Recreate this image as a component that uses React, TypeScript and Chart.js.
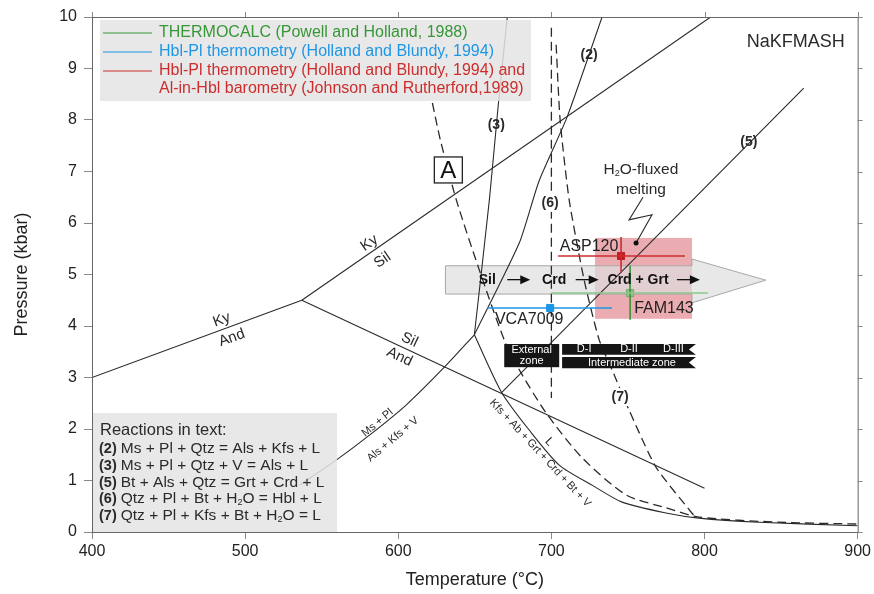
import React, { useEffect, useRef } from "react";
import { Chart, registerables } from "chart.js";
Chart.register(...registerables);

const FONT = '"Liberation Sans", Arial, Helvetica, sans-serif';

// axis ticks
const tempTicks = [400, 500, 600, 700, 800, 900];
const pressureTicks = [0, 1, 2, 3, 4, 5, 6, 7, 8, 9, 10];

// Aluminosilicate phase boundaries
const kyAndT = [400, 537];
const kyAndP = [3.0, 4.5];
const kySilT = [537, 804];
const kySilP = [4.5, 10];
const silAndT = [537, 800];
const silAndP = [4.5, 0.85];

// Reactions
const r2T = [649.7, 679.0, 692.0, 710.3, 733.1];
const r2P = [3.83, 5.61, 6.82, 8.06, 10];
const r3T = [649.7, 659.5, 665.3, 671.2];
const r3P = [3.83, 6.45, 8.29, 10];
const r5T = [667.3, 864.8];
const r5P = [2.7, 8.62];
const msPlT = [649.7, 630.1, 605.3, 581.2, 559.7, 535.6];
const msPlP = [3.83, 3.2, 2.47, 1.88, 1.4, 0.91];
const kfsT = [649.7, 667.3, 685.5, 705.1, 726.6, 746.2, 774.8, 796.3, 835.5, 900];
const kfsP = [3.83, 2.72, 1.98, 1.3, 0.91, 0.58, 0.37, 0.27, 0.19, 0.12];
const dashAT = [622.3, 627.5, 637.9, 652.9, 669.2, 679.0, 696.6, 720.1, 748.8, 774.8, 796.3, 848.5, 900];
const dashAP = [8.33, 7.61, 6.45, 5.09, 3.73, 3.15, 2.31, 1.44, 0.72, 0.47, 0.29, 0.19, 0.155];
const r6T = [700, 700];
const r6P = [9.79, 2.6];
const r7T = [703.1, 705.7, 711.6, 721.4, 731.2, 739.6, 750.7, 768.3, 794.4];
const r7P = [9.46, 8.0, 6.45, 4.89, 3.73, 3.15, 2.37, 1.26, 0.27];

// Samples: [T, P, Tmin, Tmax, Pmin, Pmax]
const asp120 = [745.5, 5.36, 704.4, 787.2, 5.03, 5.73];
const fam143 = [751.4, 4.64, 699.9, 802.2, 4.12, 5.17];
const vca7009 = [699.2, 4.35, 658.1, 739.6];

// Shaded areas
const pinkBoxT = [728.5, 791.8];
const pinkBoxP = [4.14, 5.71];
const arrowBodyT = [630.8, 791.8];
const arrowBodyP = [4.62, 5.17];
const arrowHeadT = [791.8, 840.0, 791.8];
const arrowHeadP = [5.3, 4.89, 4.45];

// H2O-fluxed melting zigzag
const zigT = [759.8, 750.7, 765.7, 755.3];
const zigP = [6.5, 6.06, 6.16, 5.61];

const RED = "rgb(205,45,45)";
const BLUE = "rgb(30,150,230)";
const GREEN = "rgb(55,150,55)";
const LGREEN = "rgb(140,200,140)";
const INK = "#2a2a2a";

function pts(T: number[], P: number[]) {
  return T.map((t, i) => ({ x: t, y: P[i] }));
}

function lineDs(T: number[], P: number[], dashed = false, tension = 0, color = INK, width = 1.1) {
  return {
    type: "scatter" as const,
    data: pts(T, P),
    showLine: true,
    pointRadius: 0,
    borderColor: color,
    borderWidth: width,
    borderDash: dashed ? [9, 5] : [],
    tension,
    fill: false,
  };
}

function drawText(ctx: CanvasRenderingContext2D, s: string, x: number, y: number, font: string, color = INK, rot = 0, align: CanvasTextAlign = "center") {
  ctx.save();
  ctx.translate(x, y);
  if (rot) ctx.rotate((rot * Math.PI) / 180);
  ctx.font = font;
  ctx.fillStyle = color;
  ctx.textAlign = align;
  ctx.textBaseline = "middle";
  ctx.fillText(s, 0, 0);
  ctx.restore();
}

type Run = { t: string; f: string; dy?: number };
function drawRuns(ctx: CanvasRenderingContext2D, runs: Run[], x: number, y: number, color = INK, center = false) {
  ctx.save();
  ctx.fillStyle = color;
  ctx.textBaseline = "middle";
  ctx.textAlign = "left";
  let w = 0;
  for (const r of runs) {
    ctx.font = r.f;
    w += ctx.measureText(r.t).width;
  }
  let cx = center ? x - w / 2 : x;
  for (const r of runs) {
    ctx.font = r.f;
    ctx.fillText(r.t, cx, y + (r.dy || 0));
    cx += ctx.measureText(r.t).width;
  }
  ctx.restore();
}

const annot = {
  id: "annot",
  beforeDatasetsDraw(chart: any) {
    const { ctx, scales } = chart;
    const X = (v: number) => scales.x.getPixelForValue(v);
    const Y = (v: number) => scales.y.getPixelForValue(v);
    ctx.save();
    // pink box
    ctx.fillStyle = "rgba(214,90,100,0.5)";
    ctx.fillRect(X(pinkBoxT[0]), Y(pinkBoxP[1]), X(pinkBoxT[1]) - X(pinkBoxT[0]), Y(pinkBoxP[0]) - Y(pinkBoxP[1]));
    // grey arrow
    ctx.beginPath();
    ctx.moveTo(X(arrowBodyT[0]), Y(arrowBodyP[1]));
    ctx.lineTo(X(arrowBodyT[1]), Y(arrowBodyP[1]));
    ctx.lineTo(X(arrowHeadT[0]), Y(arrowHeadP[0]));
    ctx.lineTo(X(arrowHeadT[1]), Y(arrowHeadP[1]));
    ctx.lineTo(X(arrowHeadT[2]), Y(arrowHeadP[2]));
    ctx.lineTo(X(arrowBodyT[1]), Y(arrowBodyP[0]));
    ctx.lineTo(X(arrowBodyT[0]), Y(arrowBodyP[0]));
    ctx.closePath();
    ctx.fillStyle = "rgba(222,222,222,0.7)";
    ctx.fill();
    ctx.strokeStyle = "#a8a8a8";
    ctx.lineWidth = 1;
    ctx.stroke();
    ctx.restore();
  },
  afterDatasetsDraw(chart: any) {
    const { ctx, scales, chartArea } = chart;
    const X = (v: number) => scales.x.getPixelForValue(v);
    const Y = (v: number) => scales.y.getPixelForValue(v);
    const L = chartArea.left;
    const T = chartArea.top;
    ctx.save();

    // legend box
    ctx.fillStyle = "rgba(228,228,228,0.85)";
    ctx.fillRect(L + 8, T + 3, 431, 81);
    const legRows: [string, string, number][] = [
      ["THERMOCALC (Powell and Holland, 1988)", GREEN, 16],
      ["Hbl-Pl thermometry (Holland and Blundy, 1994)", BLUE, 35],
      ["Hbl-Pl thermometry (Holland and Blundy, 1994) and", RED, 54],
    ];
    for (const [s, c, dy] of legRows) {
      ctx.strokeStyle = c;
      ctx.lineWidth = 1.2;
      ctx.beginPath();
      ctx.moveTo(L + 11, T + dy);
      ctx.lineTo(L + 60, T + dy);
      ctx.stroke();
      drawText(ctx, s, L + 67, T + dy, `16px ${FONT}`, c, 0, "left");
    }
    drawText(ctx, "Al-in-Hbl barometry (Johnson and Rutherford,1989)", L + 67, T + 72, `16px ${FONT}`, RED, 0, "left");

    // reactions box
    ctx.fillStyle = "rgba(228,228,228,0.85)";
    ctx.fillRect(L, 413, 245, chartArea.bottom - 413);
    drawText(ctx, "Reactions in text:", L + 8, 430, `16.5px ${FONT}`, INK, 0, "left");
    const bf = `bold 14.5px ${FONT}`;
    const nf = `15.5px ${FONT}`;
    const sf = `9px ${FONT}`;
    drawRuns(ctx, [{ t: "(2) ", f: bf }, { t: "Ms + Pl + Qtz = Als + Kfs + L", f: nf }], L + 7, 449);
    drawRuns(ctx, [{ t: "(3) ", f: bf }, { t: "Ms + Pl + Qtz + V = Als + L", f: nf }], L + 7, 466);
    drawRuns(ctx, [{ t: "(5) ", f: bf }, { t: "Bt + Als + Qtz = Grt + Crd + L", f: nf }], L + 7, 483);
    drawRuns(ctx, [{ t: "(6) ", f: bf }, { t: "Qtz + Pl + Bt + H", f: nf }, { t: "2", f: sf, dy: 4 }, { t: "O = Hbl + L", f: nf }], L + 7, 499);
    drawRuns(ctx, [{ t: "(7) ", f: bf }, { t: "Qtz + Pl + Kfs + Bt + H", f: nf }, { t: "2", f: sf, dy: 4 }, { t: "O = L", f: nf }], L + 7, 516);

    // phase labels
    const lf = `15px ${FONT}`;
    drawText(ctx, "Ky", X(581.2), Y(5.61), lf, INK, -34.6);
    drawText(ctx, "Sil", X(589.7), Y(5.28), lf, INK, -34.6);
    drawText(ctx, "Ky", X(484.7), Y(4.12), lf, INK, -20);
    drawText(ctx, "And", X(491.3), Y(3.77), lf, INK, -20);
    drawText(ctx, "Sil", X(607.3), Y(3.73), lf, INK, 25);
    drawText(ctx, "And", X(600.8), Y(3.4), lf, INK, 25);

    // reaction numbers
    const nb = `bold 14px ${FONT}`;
    drawText(ctx, "(2)", X(724.6), Y(9.26), nb);
    drawText(ctx, "(3)", X(664.0), Y(7.9), nb);
    drawText(ctx, "(5)", X(829.0), Y(7.57), nb);
    ctx.fillStyle = "#fff";
    ctx.fillRect(X(699.2) - 11, Y(6.39) - 9, 22, 18);
    ctx.fillRect(X(744.9) - 11, Y(2.62) - 9, 22, 18);
    drawText(ctx, "(6)", X(699.2), Y(6.39), nb);
    drawText(ctx, "(7)", X(744.9), Y(2.62), nb);

    // small reaction labels
    const sm = `11px ${FONT}`;
    drawText(ctx, "Ms + Pl", X(586.4), Y(2.12), sm, INK, -40);
    drawText(ctx, "Als + Kfs + V", X(596.5), Y(1.8), sm, INK, -40);
    drawText(ctx, "Kfs + Ab + Grt + Crd + Bt + V", X(692.7), Y(1.53), sm, INK, 47);
    drawText(ctx, "L", X(698.6), Y(1.75), `12px ${FONT}`, INK, 47);

    // A box
    const ax = X(632.7), ay = Y(7.03);
    ctx.fillStyle = "#fff";
    ctx.fillRect(ax - 14, ay - 13, 28, 26);
    ctx.strokeStyle = "#222";
    ctx.lineWidth = 1.3;
    ctx.strokeRect(ax - 14, ay - 13, 28, 26);
    drawText(ctx, "A", ax, ay + 1, `24px ${FONT}`, "#111");

    // NaKFMASH
    drawText(ctx, "NaKFMASH", X(859.6), Y(9.51), `18px ${FONT}`, INK);

    // H2O-fluxed melting
    drawRuns(ctx, [{ t: "H", f: `15.5px ${FONT}` }, { t: "2", f: `9px ${FONT}`, dy: 4 }, { t: "O-fluxed", f: `15.5px ${FONT}` }], X(758.5), Y(7.03), INK, true);
    drawText(ctx, "melting", X(758.5), Y(6.64), `15.5px ${FONT}`, INK);
    ctx.strokeStyle = INK;
    ctx.lineWidth = 1.1;
    ctx.beginPath();
    zigT.forEach((t, i) => (i === 0 ? ctx.moveTo(X(t), Y(zigP[i])) : ctx.lineTo(X(t), Y(zigP[i]))));
    ctx.stroke();
    ctx.fillStyle = "#111";
    ctx.beginPath();
    ctx.arc(X(zigT[3]), Y(zigP[3]), 2.5, 0, Math.PI * 2);
    ctx.fill();

    // arrow path labels
    const af = `bold 14px ${FONT}`;
    const ap = Y(4.9);
    drawText(ctx, "Sil", X(658.1), ap, af, "#111");
    drawText(ctx, "Crd", X(701.8), ap, af, "#111");
    drawText(ctx, "Crd + Grt", X(756.6), ap, af, "#111");
    for (const c of [679.0, 723.7, 789.8]) {
      const cx = X(c);
      ctx.strokeStyle = "#111";
      ctx.lineWidth = 1.3;
      ctx.beginPath();
      ctx.moveTo(cx - 12, ap);
      ctx.lineTo(cx + 2, ap);
      ctx.stroke();
      ctx.fillStyle = "#111";
      ctx.beginPath();
      ctx.moveTo(cx + 1, ap - 4.5);
      ctx.lineTo(cx + 11, ap);
      ctx.lineTo(cx + 1, ap + 4.5);
      ctx.closePath();
      ctx.fill();
    }

    // sample labels
    drawText(ctx, "ASP120", X(724.6), Y(5.55), `16px ${FONT}`, "#222");
    drawText(ctx, "FAM143", X(773.5), Y(4.33), `16px ${FONT}`, "#222");
    drawText(ctx, "VCA7009", X(685.5), Y(4.12), `16px ${FONT}`, "#222");

    // zone boxes
    ctx.fillStyle = "#151515";
    const ex0 = X(669.2), ex1 = X(705.1), ey0 = Y(3.65), ey1 = Y(3.2);
    ctx.fillRect(ex0, ey0, ex1 - ex0, ey1 - ey0);
    drawText(ctx, "External", (ex0 + ex1) / 2, ey0 + 6, `11px ${FONT}`, "#fff");
    drawText(ctx, "zone", (ex0 + ex1) / 2, ey0 + 17, `11px ${FONT}`, "#fff");
    const ix0 = X(707.0), ix1 = X(794.4);
    const banner = (y0: number, y1: number) => {
      ctx.beginPath();
      ctx.moveTo(ix0, y0);
      ctx.lineTo(ix1, y0);
      ctx.lineTo(ix1 - 7, (y0 + y1) / 2);
      ctx.lineTo(ix1, y1);
      ctx.lineTo(ix0, y1);
      ctx.closePath();
      ctx.fill();
    };
    ctx.fillStyle = "#151515";
    banner(Y(3.65), Y(3.44));
    banner(Y(3.4), Y(3.18));
    const bm1 = (Y(3.65) + Y(3.44)) / 2, bm2 = (Y(3.4) + Y(3.18)) / 2;
    drawText(ctx, "D-I", X(721.4), bm1, `11px ${FONT}`, "#fff");
    drawText(ctx, "D-II", X(750.7), bm1, `11px ${FONT}`, "#fff");
    drawText(ctx, "D-III", X(779.7), bm1, `11px ${FONT}`, "#fff");
    drawText(ctx, "Intermediate zone", X(752.6), bm2, `11px ${FONT}`, "#fff");

    ctx.restore();
  },
  afterDraw(chart: any) {
    const { ctx, chartArea, scales } = chart;
    ctx.save();
    ctx.strokeStyle = "#666";
    ctx.lineWidth = 1;
    ctx.strokeRect(chartArea.left + 0.5, chartArea.top + 0.5, chartArea.right - chartArea.left, chartArea.bottom - chartArea.top);
    ctx.strokeStyle = "#888";
    ctx.beginPath();
    for (const t of tempTicks) {
      const x = Math.round(scales.x.getPixelForValue(t)) + 0.5;
      ctx.moveTo(x, chartArea.top);
      ctx.lineTo(x, chartArea.top - 5);
    }
    for (const p of pressureTicks) {
      const y = Math.round(scales.y.getPixelForValue(p)) + 0.5;
      ctx.moveTo(chartArea.right, y);
      ctx.lineTo(chartArea.right + 5, y);
    }
    ctx.stroke();
    ctx.restore();
  },
};

export default function App() {
  const ref = useRef<HTMLCanvasElement | null>(null);
  useEffect(() => {
    if (!ref.current) return;
    const datasets: any[] = [
      // sample error bars (drawn on top: first in list)
      { ...lineDs([asp120[2], asp120[3]], [asp120[1], asp120[1]], false, 0, RED, 1.6) },
      { ...lineDs([asp120[0], asp120[0]], [asp120[4], asp120[5]], false, 0, RED, 1.6) },
      { type: "scatter", data: [{ x: asp120[0], y: asp120[1] }], pointStyle: "rect", pointRadius: 5, backgroundColor: "rgb(190,30,35)", borderColor: "rgb(190,30,35)" },
      { ...lineDs([fam143[2], fam143[3]], [fam143[1], fam143[1]], false, 0, LGREEN, 1.6) },
      { ...lineDs([fam143[0], fam143[0]], [fam143[4], fam143[5]], false, 0, GREEN, 1.6) },
      { type: "scatter", data: [{ x: fam143[0], y: fam143[1] }], pointStyle: "rect", pointRadius: 5, backgroundColor: "rgb(150,190,140)", borderColor: "rgb(120,170,110)" },
      { ...lineDs([vca7009[2], vca7009[3]], [vca7009[1], vca7009[1]], false, 0, BLUE, 1.6) },
      { type: "scatter", data: [{ x: vca7009[0], y: vca7009[1] }], pointStyle: "rect", pointRadius: 5, backgroundColor: BLUE, borderColor: BLUE },
      // phase boundaries
      lineDs(kyAndT, kyAndP),
      lineDs(kySilT, kySilP),
      lineDs(silAndT, silAndP),
      lineDs(r2T, r2P, false, 0.2),
      lineDs(r3T, r3P, false, 0.2),
      lineDs(r5T, r5P),
      lineDs(msPlT, msPlP, false, 0.25),
      lineDs(kfsT, kfsP, false, 0.25),
      lineDs(dashAT, dashAP, true, 0.25, INK, 1.3),
      lineDs(r6T, r6P, true, 0, INK, 1.3),
      lineDs(r7T, r7P, true, 0.2, INK, 1.3),
    ];
    const tickFont = { family: FONT, size: 16 };
    const chart = new Chart(ref.current, {
      type: "scatter",
      data: { datasets },
      options: {
        animation: false,
        responsive: false,
        layout: { padding: { top: 17, right: 15, left: 0, bottom: 0 } },
        plugins: { legend: { display: false }, tooltip: { enabled: false } },
        scales: {
          x: {
            type: "linear",
            min: 400,
            max: 900,
            afterBuildTicks: (s: any) => {
              s.ticks = tempTicks.map((v) => ({ value: v }));
            },
            afterFit: (s: any) => {
              s.height = 62;
            },
            ticks: { font: tickFont, color: "#222", padding: 3 },
            grid: { drawOnChartArea: false, tickLength: 7, color: "#888" },
            border: { color: "#666" },
            title: { display: true, text: "Temperature (°C)", font: { family: FONT, size: 18 }, color: "#222", padding: { top: 0, bottom: 3 } },
          },
          y: {
            type: "linear",
            min: 0,
            max: 10,
            afterBuildTicks: (s: any) => {
              s.ticks = pressureTicks.map((v) => ({ value: v }));
            },
            afterFit: (s: any) => {
              s.width = 92;
            },
            ticks: { font: tickFont, color: "#222", padding: 7 },
            grid: { drawOnChartArea: false, tickLength: 8, color: "#888" },
            border: { color: "#666" },
            title: { display: true, text: "Pressure (kbar)", font: { family: FONT, size: 18 }, color: "#222", padding: { top: 11, bottom: 0 } },
          },
        },
      },
      plugins: [annot],
    } as any);
    return () => chart.destroy();
  }, []);
  return (
    <div style={{ position: "absolute", left: 0, top: 0, width: 874, height: 594, background: "#fff" }}>
      <canvas ref={ref} width={874} height={594} style={{ display: "block" }} />
    </div>
  );
}
